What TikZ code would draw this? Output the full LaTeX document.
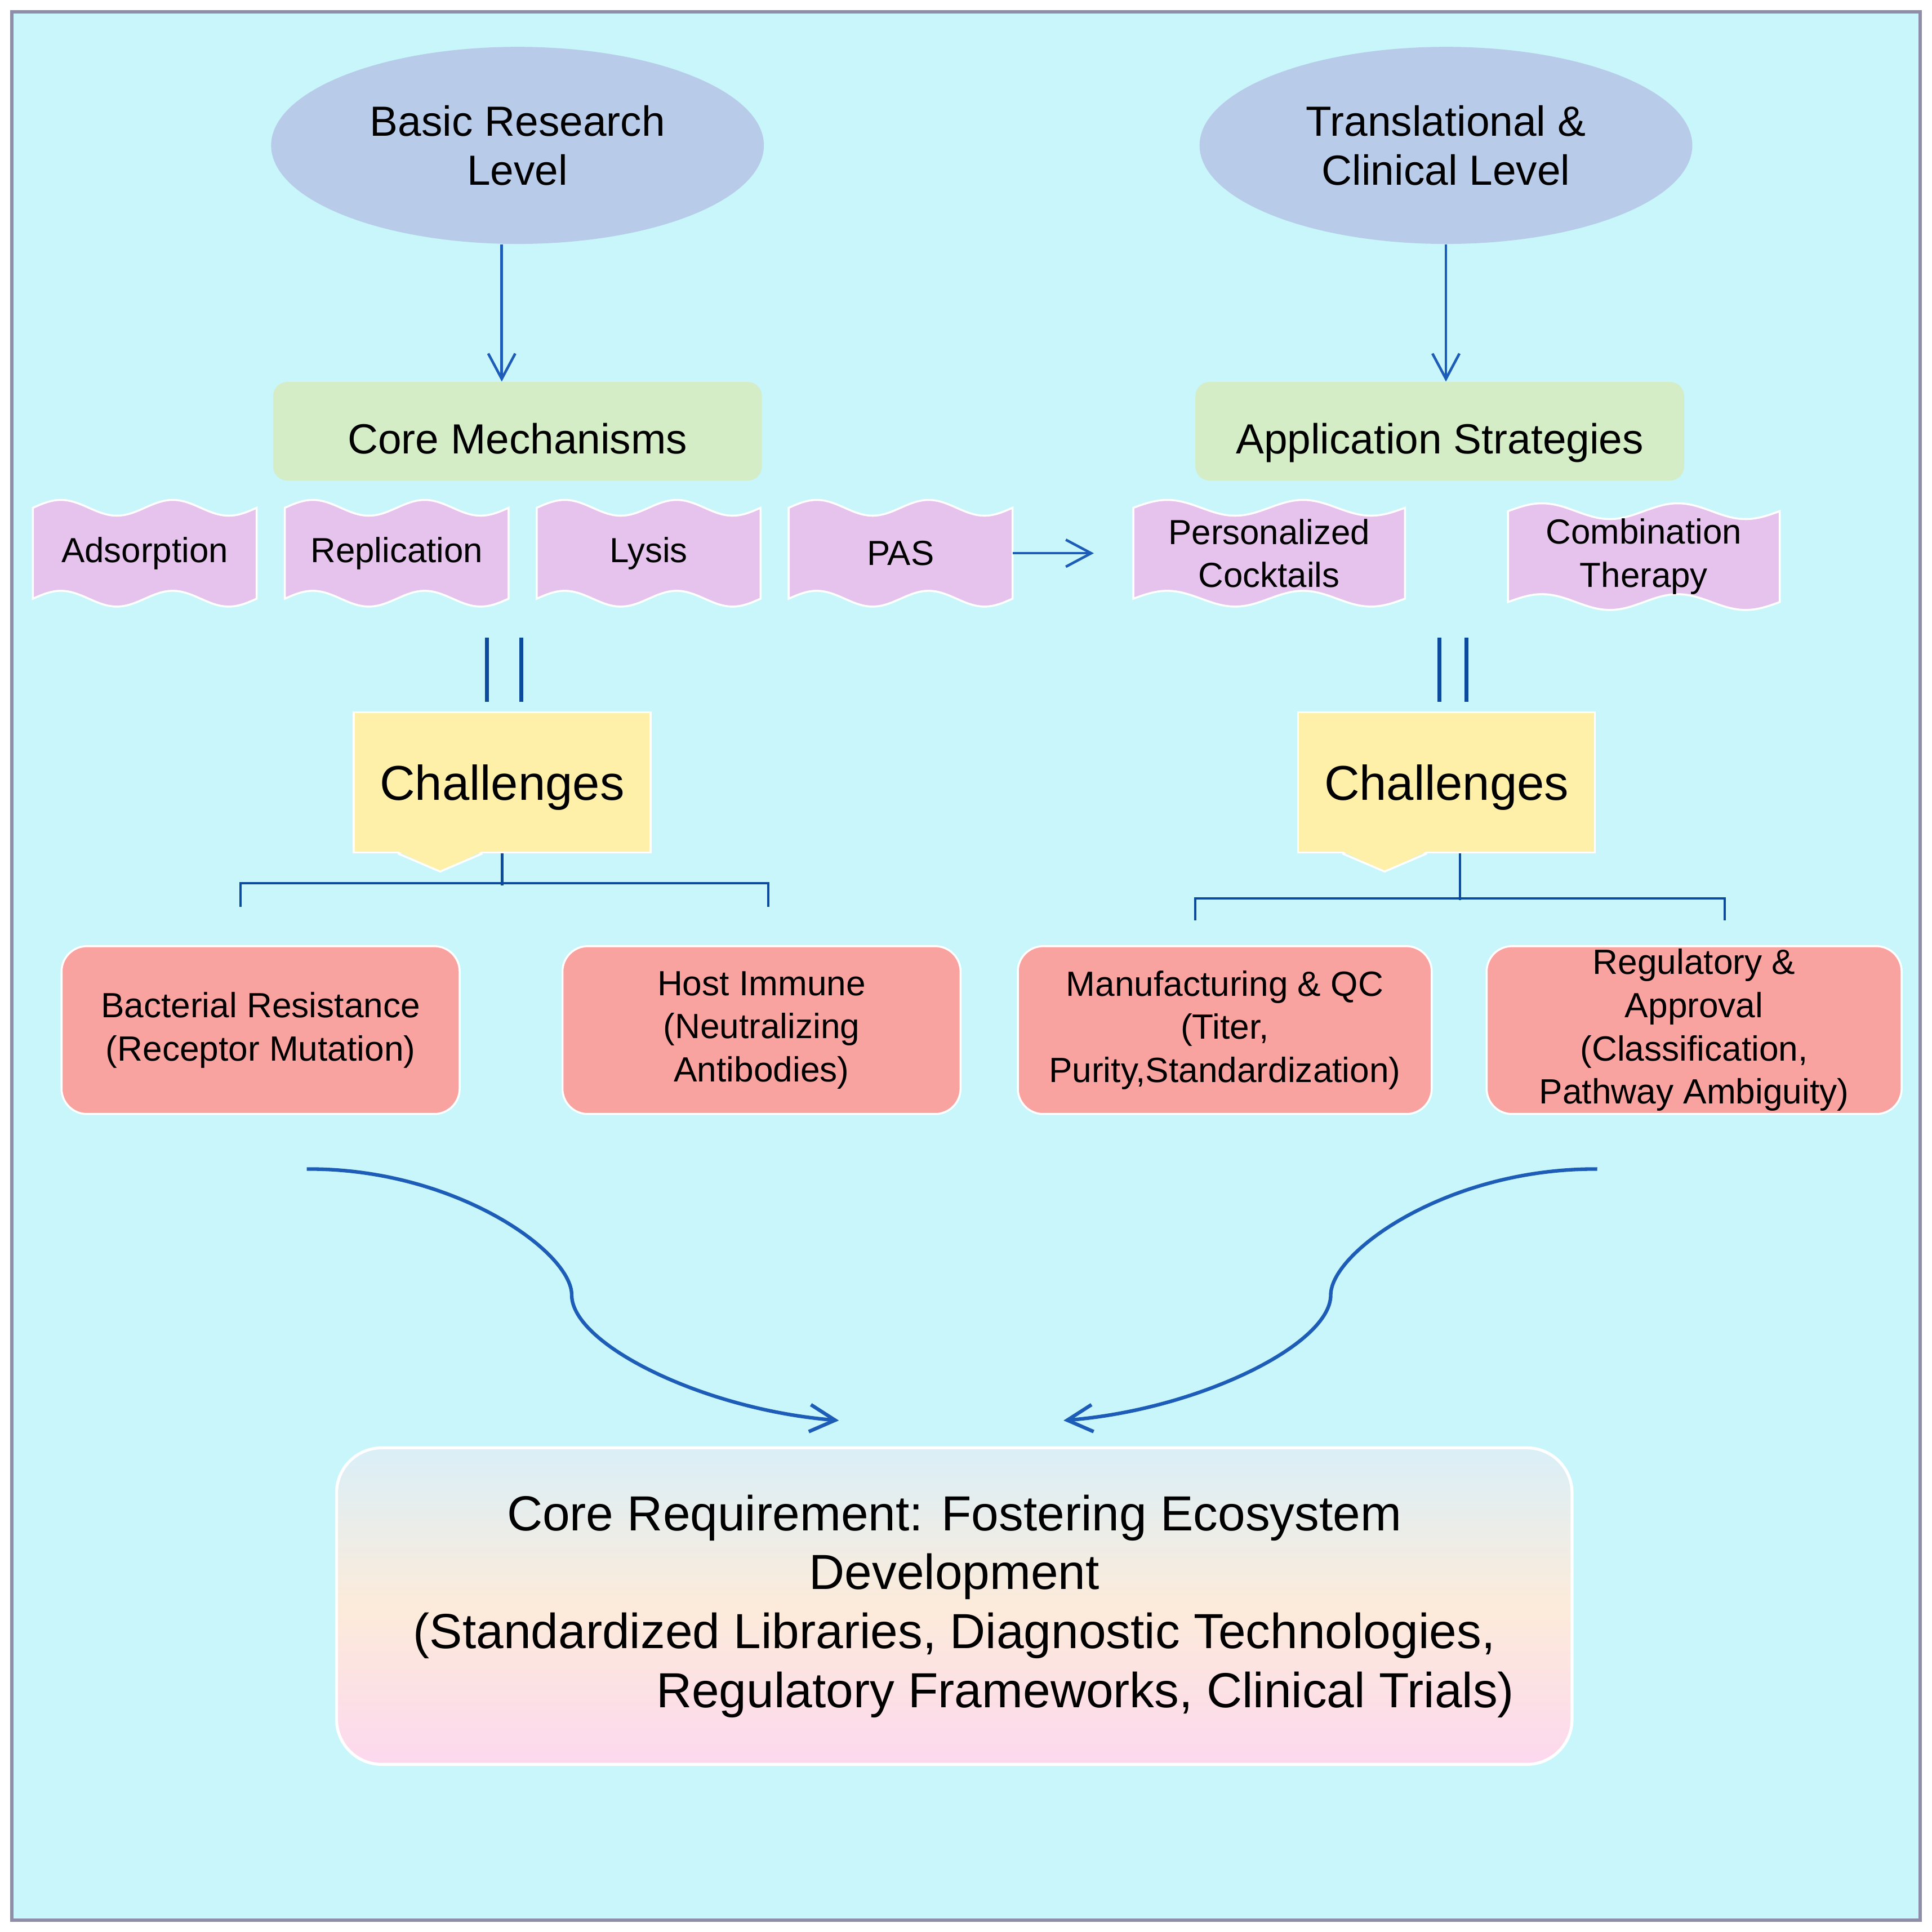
\documentclass[tikz,border=0pt]{standalone}
\usepackage{fontspec}
\setmainfont{Liberation Sans}
\usetikzlibrary{shapes.geometric, arrows.meta, positioning, calc, backgrounds}

\definecolor{skyback}{HTML}{C9F6FA}
\definecolor{frameline}{HTML}{8E8EA8}
\definecolor{levelblue}{HTML}{B8CBE9}
\definecolor{mechgreen}{HTML}{D4EDC6}
\definecolor{flagpink}{HTML}{E5C3EC}
\definecolor{chalyellow}{HTML}{FEF0A8}
\definecolor{issuered}{HTML}{F8A3A0}
\definecolor{linkblue}{HTML}{1D5DB8}
\definecolor{darkblue}{HTML}{0C4A9E}
\definecolor{reqtop}{HTML}{DAEFF8}
\definecolor{reqmid}{HTML}{FCEBDA}
\definecolor{reqbot}{HTML}{FCD8EE}

\begin{document}
\begin{tikzpicture}[
    x=0.021875cm, y=-0.021875cm,
    >={Straight Barb[length=0.45cm, width=0.48cm]},
    level/.style={ellipse, fill=levelblue, minimum width=8.75cm, minimum height=3.5cm, inner sep=0pt, align=center, font=\fontsize{21.3pt}{24.9pt}\selectfont},
    group/.style={rectangle, fill=mechgreen, rounded corners=0.25cm, minimum width=8.68cm, minimum height=1.75cm, text height=1.0cm, text depth=0.2cm, align=center, font=\fontsize{21.3pt}{24.9pt}\selectfont},
    flag/.style={rectangle, minimum width=3.96cm, minimum height=1.6cm, inner sep=0pt, align=center, font=\fontsize{17.6pt}{21.8pt}\selectfont},
    challenge/.style={rectangle, fill=chalyellow, draw=white, line width=1pt, minimum width=5.27cm, minimum height=2.49cm, text height=0.75cm, text depth=0.12cm, font=\fontsize{24.7pt}{28pt}\selectfont},
    issue/.style={rectangle, fill=issuered, draw=white, line width=1pt, rounded corners=0.45cm, minimum width=7.07cm, minimum height=2.98cm, inner sep=0pt, align=center, font=\fontsize{17.7pt}{21.8pt}\selectfont},
    goal/.style={rectangle, rounded corners=0.8cm, draw=white, line width=1.5pt, top color=reqtop, bottom color=reqbot, middle color=reqmid, minimum width=21.94cm, minimum height=5.62cm, align=center, font=\fontsize{24.9pt}{29.8pt}\selectfont},
    arrow/.style={->, linkblue, line width=1.3pt},
    twin/.style={darkblue, line width=2pt},
    bracket/.style={darkblue, line width=1.2pt},
    sweep/.style={->, linkblue, line width=1.8pt}
]
    \useasboundingbox (0,0) rectangle (1568,1568);
    \node[level] (basicLevel) at (420,118) {Basic Research\\Level};
    \node[level] (clinLevel) at (1173.5,118) {Translational \&\\Clinical Level};
    \node[group] (coreMech) at (420,350) {Core Mechanisms};
    \node[group] (appStrat) at (1168.5,350) {Application Strategies};
    \draw[arrow] ([xshift=-0.28cm]basicLevel.south) -- ([xshift=-0.28cm]coreMech.north);
    \draw[arrow] (clinLevel.south) -- (clinLevel.south |- appStrat.north);
    \node[flag] (adsorption) at (117.5,449) {Adsorption};
    \node[flag, right=0.5cm of adsorption] (replication) {Replication};
    \node[flag, right=0.5cm of replication] (lysis) {Lysis};
    \node[flag, right=0.5cm of lysis] (pas) {PAS};
    \node[flag, minimum width=4.81cm] (cocktails) at (1030,449) {Personalized\\Cocktails};
    \node[flag, minimum width=4.81cm, right=1.83cm of cocktails, yshift=-0.06cm] (combo) {Combination\\Therapy};
    \draw[arrow, shorten >=0.7cm] (pas.east) -- (cocktails.west);
    \node[challenge] (chalA) at (407.5,635) {Challenges};
    \node[challenge] (chalB) at (1174,635) {Challenges};
    \foreach \ch in {chalA, chalB} {
        \fill[chalyellow] ([xshift=-1.85cm, yshift=0.04cm]\ch.south) -- ([xshift=-1.1cm, yshift=-0.32cm]\ch.south) -- ([xshift=-0.35cm, yshift=0.04cm]\ch.south) -- cycle;
        \draw[white, line width=1pt] ([xshift=-1.85cm]\ch.south) -- ([xshift=-1.1cm, yshift=-0.32cm]\ch.south) -- ([xshift=-0.35cm]\ch.south);
    }
    \draw[twin] ([xshift=-0.27cm, yshift=0.17cm]chalA.north) -- ++(0,1.14cm);
    \draw[twin] ([xshift=0.34cm, yshift=0.17cm]chalA.north) -- ++(0,1.14cm);
    \draw[twin] ([xshift=-0.13cm, yshift=0.17cm]chalB.north) -- ++(0,1.14cm);
    \draw[twin] ([xshift=0.35cm, yshift=0.17cm]chalB.north) -- ++(0,1.14cm);
    \node[issue] (resist) at (211.5,836) {Bacterial Resistance\\(Receptor Mutation)};
    \node[issue, right=1.79cm of resist] (immune) {Host Immune\\(Neutralizing\\Antibodies)};
    \node[issue, minimum width=7.35cm] (manuf) at (994,836) {Manufacturing \& QC\\(Titer,\\Purity,Standardization)};
    \node[issue, minimum width=7.37cm, right=0.94cm of manuf] (regul) {Regulatory \&\\Approval\\(Classification,\\Pathway Ambiguity)};
    \draw[bracket] (chalA.south) -- ++(0,-0.57cm);
    \draw[bracket] ([xshift=-0.36cm, yshift=0.68cm]resist.north) -- ++(0,0.42cm) -| ([xshift=0.12cm, yshift=0.68cm]immune.north);
    \draw[bracket] ([xshift=0.24cm]chalB.south) -- ++(0,-0.83cm);
    \draw[bracket] ([xshift=-0.525cm, yshift=0.44cm]manuf.north) -- ++(0,0.39cm) -| ([xshift=0.54cm, yshift=0.44cm]regul.north);
    \node[goal] (ecosystem) at (774.5,1303.5) {Core Requirement: Fostering Ecosystem\\Development\\(Standardized Libraries, Diagnostic Technologies,\\\hspace*{4.65cm}Regulatory Frameworks, Clinical Trials)};
    \draw[sweep] ([xshift=0.82cm, yshift=-0.96cm]resist.south) .. controls (369,948) and (464,1016) .. (464,1051) .. controls (464,1091) and (571,1144) .. ([xshift=-2.05cm, yshift=0.46cm]ecosystem.north);
    \draw[sweep] ([xshift=-1.72cm, yshift=-0.96cm]regul.south) .. controls (1175,948) and (1080,1016) .. (1080,1051) .. controls (1080,1091) and (973,1144) .. ([xshift=1.94cm, yshift=0.46cm]ecosystem.north);
    \begin{scope}[on background layer]
        \fill[white] (0,0) rectangle (1568,1568);
        \filldraw[fill=skyback, draw=frameline, line width=1.6pt] (9.5,9.5) rectangle (1558.5,1558.5);
        \foreach \f in {adsorption, replication, lysis, pas, cocktails, combo}
            \filldraw[fill=flagpink, draw=white, line width=1pt]
                let \p1=(\f.north west), \p2=(\f.south east), \n1={(\x2-\x1)/8} in
                (\p1) sin ++({\n1*1pt},0.14cm) cos ++({\n1*1pt},-0.14cm) sin ++({\n1*1pt},-0.14cm) cos ++({\n1*1pt},0.14cm)
                sin ++({\n1*1pt},0.14cm) cos ++({\n1*1pt},-0.14cm) sin ++({\n1*1pt},-0.14cm) cos ++({\n1*1pt},0.14cm)
                -- (\x2,\y2)
                sin ++({-\n1*1pt},-0.14cm) cos ++({-\n1*1pt},0.14cm) sin ++({-\n1*1pt},0.14cm) cos ++({-\n1*1pt},-0.14cm)
                sin ++({-\n1*1pt},-0.14cm) cos ++({-\n1*1pt},0.14cm) sin ++({-\n1*1pt},0.14cm) cos ++({-\n1*1pt},-0.14cm)
                -- cycle;
    \end{scope}
\end{tikzpicture}
\end{document}
